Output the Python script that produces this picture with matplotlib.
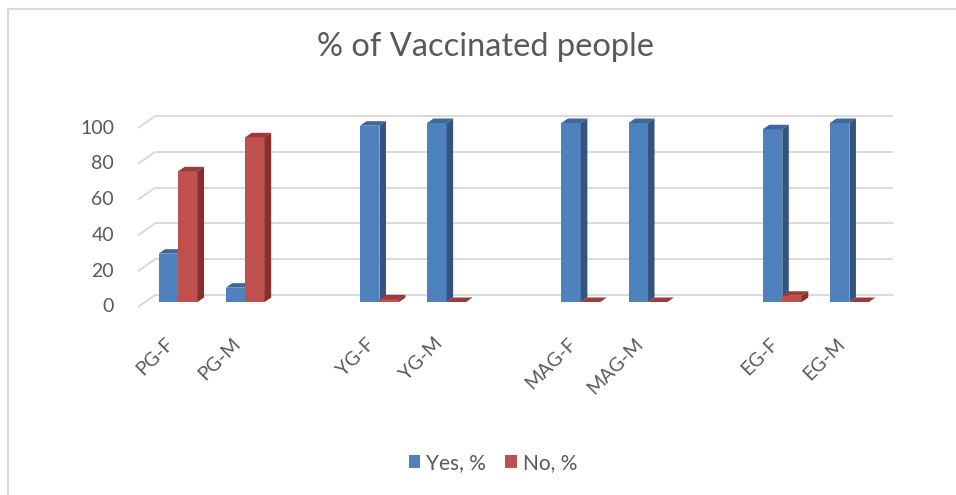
import matplotlib
matplotlib.use("Agg")
import matplotlib.pyplot as plt
import matplotlib.transforms as mtransforms
from matplotlib.patches import Polygon, Patch
from matplotlib.lines import Line2D

plt.rcParams['font.family'] = ['Lato', 'DejaVu Sans']

categories = ["PG-F", "PG-M", "", "YG-F", "YG-M", "", "MAG-F", "MAG-M", "", "EG-F", "EG-M"]
yes_pct = [27, 8, None, 98.5, 100, None, 100, 100, None, 96.5, 100]
no_pct = [73, 92, None, 1.5, 0, None, 0, 0, None, 3.5, 0]
yticks = [0, 20, 40, 60, 80, 100]
series_names = ["Yes, %", "No, %"]

TXT = "#595959"
GRID = "#D9D9D9"
BLUE = ("#4F81BD", "#3E6899", "#34537D")   # front, top, side
RED = ("#C0504D", "#9B3C3A", "#84302E")

W, H, DPI = 956, 495, 100
fig = plt.figure(figsize=(W / DPI, H / DPI), dpi=DPI)

# axes geometry (pixels): front-face plane of bars
x0_px, x1_px = 144.5, 883.0
y0_px, y100_px = 302.0, 123.0
ax = fig.add_axes([x0_px / W, 1 - y0_px / H, (x1_px - x0_px) / W, (y0_px - y100_px) / H])
ax.set_xlim(-0.5, len(categories) - 0.5)
ax.set_ylim(0, 100)
ax.axis("off")

# pixel -> data conversion
ux = (len(categories)) / (x1_px - x0_px)
uy = 100.0 / (y0_px - y100_px)

# back wall and front plane offsets (pixels, right/up)
back_dx, back_dy = 10.5, 7.0
front_dx, front_dy = -6.5, -5.0
bar_dx, bar_dy = 6.5 * ux, 4.5 * uy

xmin, xmax = ax.get_xlim()
for v in yticks:
    # back wall gridline
    ax.plot([xmin + back_dx * ux, xmax + back_dx * ux], [v + back_dy * uy] * 2,
            color=GRID, lw=1.4, zorder=0, clip_on=False, solid_capstyle="butt")
    # left side wall
    ax.plot([xmin + front_dx * ux, xmin + back_dx * ux],
            [v + front_dy * uy, v + back_dy * uy],
            color=GRID, lw=1.4, zorder=0, clip_on=False, solid_capstyle="butt")

bw = 19.5 * ux


def draw_bar(xc, val, cols):
    xl, xr = xc - bw / 2, xc + bw / 2
    ax.bar(xc, val, width=bw, color=cols[0], zorder=2, linewidth=0)
    top = Polygon([(xl, val), (xr, val), (xr + bar_dx, val + bar_dy), (xl + bar_dx, val + bar_dy)],
                  closed=True, facecolor=cols[1], edgecolor="none", zorder=2, clip_on=False)
    side = Polygon([(xr, 0), (xr, val), (xr + bar_dx, val + bar_dy), (xr + bar_dx, bar_dy)],
                   closed=True, facecolor=cols[2], edgecolor="none", zorder=2, clip_on=False)
    ax.add_patch(top)
    ax.add_patch(side)


for i, (y, n) in enumerate(zip(yes_pct, no_pct)):
    if y is None:
        continue
    draw_bar(i - bw / 2, y, BLUE)
    draw_bar(i + bw / 2, n, RED)

# y tick labels (front plane)
ytrans = mtransforms.blended_transform_factory(fig.transFigure, ax.transData) + \
    mtransforms.ScaledTranslation(0, front_dy / DPI, fig.dpi_scale_trans)
for v in yticks:
    ax.text(114 / W, v, str(v), transform=ytrans, ha="right", va="center",
            fontsize=14, color=TXT)

# x category labels
xtrans = mtransforms.blended_transform_factory(ax.transData, fig.transFigure)
for i, c in enumerate(categories):
    if c:
        ax.text(i - 0.02, 1 - 335 / H, c, transform=xtrans, rotation=45,
                ha="right", va="top", fontsize=14, color=TXT)

# title
fig.text(485.5 / W, 1 - 56 / H, "% of Vaccinated people", ha="center", va="baseline",
         fontsize=23.5, color=TXT)

# legend
handles = [Patch(facecolor=BLUE[0], edgecolor="none"), Patch(facecolor=RED[0], edgecolor="none")]
fig.legend(handles, series_names, loc="center", bbox_to_anchor=(493 / W, 1 - 463 / H),
           ncol=2, frameon=False, fontsize=15, handlelength=0.55, handleheight=0.55,
           handletextpad=0.3, columnspacing=0.9, labelcolor=TXT)

# chart border (top and left visible)
fig.add_artist(Line2D([7.5 / W, 1.0], [1 - 9 / H, 1 - 9 / H], color=GRID, lw=1.5,
                      transform=fig.transFigure))
fig.add_artist(Line2D([8 / W, 8 / W], [1 - 9 / H, 0.0], color=GRID, lw=1.5,
                      transform=fig.transFigure))

fig.savefig("out.png", dpi=DPI)
